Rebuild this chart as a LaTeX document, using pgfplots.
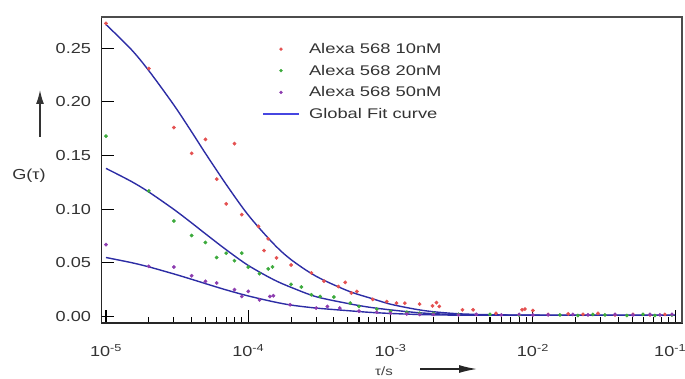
\documentclass[border=0pt]{standalone}
\usepackage{pgfplots}
\pgfplotsset{compat=1.18}
\usetikzlibrary{arrows.meta}
\usepackage{fontspec}
\setmainfont{Liberation Sans}
\newfontfamily\tickfont{Liberation Sans}[FakeStretch=1.25]
\newfontfamily\legfont{Liberation Sans}[FakeStretch=1.31]
\definecolor{c10}{RGB}{228,80,80}
\definecolor{c20}{RGB}{60,170,60}
\definecolor{c50}{RGB}{140,60,175}
\definecolor{fit}{RGB}{45,45,165}
\definecolor{fitleg}{RGB}{70,70,225}

\begin{document}
\begin{tikzpicture}
\useasboundingbox (0,0) rectangle (685pt,378pt);
\begin{axis}[
  at={(101.5pt,55pt)}, anchor=south west,
  scale only axis, width=580.5pt, height=306pt,
  xmode=log, xmin=9.3e-6, xmax=0.1117,
  ymin=-0.006, ymax=0.279,
  axis line style={line width=1.4pt, black!85},
  tick align=inside,
  xtick pos=bottom, ytick pos=left,
  major tick length=13pt, minor tick length=6pt,
  every tick/.style={black, line width=1.1pt},
  xtick={1e-5,1e-4,1e-3,1e-2,1e-1},
  xticklabels={10\textsuperscript{-5},10\textsuperscript{-4},10\textsuperscript{-3},10\textsuperscript{-2},\hspace*{-10pt}10\textsuperscript{-1}},
  ytick={0,0.05,0.1,0.15,0.2,0.25},
  /pgf/number format/assume math mode=true,
  yticklabel style={/pgf/number format/fixed, /pgf/number format/fixed zerofill, /pgf/number format/precision=2},
  ticklabel style={font=\fontsize{14.5}{16}\tickfont, text=black!80},
  xticklabel style={yshift=-18pt},
  yticklabel style={xshift=-7pt},
  scaled y ticks=false,
  legend style={at={(0.2765,0.928)}, anchor=north west, draw=none, fill=none,
    font=\fontsize{14}{16}\legfont, text=black!80, row sep=6pt, inner xsep=0pt},
  legend cell align=left,
]
% 10 nM
\addplot[only marks, mark=*, mark size=1.7pt, c10, legend image code/.code={\fill[c10] (18pt,0pt) circle (1.5pt); \path[draw=none,fill=none] (0pt,0pt) -- (44pt,0pt);}] coordinates {
(1e-5,0.273) (2e-5,0.231) (3e-5,0.176) (4e-5,0.152) (5e-5,0.165) (6e-5,0.128) (7e-5,0.105) (8e-5,0.161) (9e-5,0.095)
(1.18e-4,0.084) (1.29e-4,0.0615) (1.38e-4,0.0724) (1.58e-4,0.0547) (2.0e-4,0.048) (2.78e-4,0.0406) (3.4e-4,0.033)
(4.3e-4,0.028) (4.8e-4,0.0318) (5.3e-4,0.0219) (5.8e-4,0.0234) (7.5e-4,0.016) (9.4e-4,0.014) (1.1e-3,0.0125)
(1.26e-3,0.0125) (1.6e-3,0.0116) (1.97e-3,0.010) (2.1e-3,0.013) (2.2e-3,0.0094) (3.2e-3,0.0063) (3.8e-3,0.0063)
(5.5e-3,0.003) (8.4e-3,0.0063) (8.8e-3,0.007) (1e-2,0.0056) (1.28e-2,0.002) (1.77e-2,0.0025) (2.25e-2,0.002)
(2.87e-2,0.003) (3.78e-2,0.0015) (5.05e-2,0.002) (6.65e-2,0.0015) (8.47e-2,0.002)
};
\addlegendentry{Alexa 568 10nM}
% 20 nM
\addplot[only marks, mark=*, mark size=1.7pt, c20, legend image code/.code={\fill[c20] (18pt,0pt) circle (1.5pt); \path[draw=none,fill=none] (0pt,0pt) -- (44pt,0pt);}] coordinates {
(1e-5,0.168) (2e-5,0.117) (3e-5,0.089) (4e-5,0.0755) (5e-5,0.069) (6e-5,0.055) (7e-5,0.059) (8e-5,0.052) (9e-5,0.059)
(1e-4,0.046) (1.2e-4,0.040) (1.38e-4,0.0444) (1.48e-4,0.0462) (2e-4,0.030) (2.36e-4,0.0275) (2.78e-4,0.0203)
(3.2e-4,0.0187) (4e-4,0.0182) (5.2e-4,0.0125) (6e-4,0.0094) (8e-4,0.007) (1e-3,0.005) (1.3e-3,0.004) (1.6e-3,0.003)
(2e-3,0.003) (3e-3,0.002) (5e-3,0.002) (8e-3,0.0015) (1.55e-2,0.0015) (2.07e-2,0.001) (2.64e-2,0.002)
(3.21e-2,0.0015) (4.58e-2,0.001) (5.94e-2,0.002) (7.21e-2,0.001) (9.49e-2,0.0015)
};
\addlegendentry{Alexa 568 20nM}
% 50 nM
\addplot[only marks, mark=*, mark size=1.7pt, c50, legend image code/.code={\fill[c50] (18pt,0pt) circle (1.5pt); \path[draw=none,fill=none] (0pt,0pt) -- (44pt,0pt);}] coordinates {
(1e-5,0.067) (2e-5,0.0468) (3e-5,0.0462) (4e-5,0.038) (5e-5,0.0328) (6e-5,0.0313) (8e-5,0.025) (9e-5,0.0187)
(1e-4,0.0234) (1.2e-4,0.0156) (1.42e-4,0.0187) (1.5e-4,0.0194) (1.97e-4,0.011) (3e-4,0.0079) (3.6e-4,0.0094)
(4.4e-4,0.0079) (6e-4,0.005) (8e-4,0.004) (1e-3,0.003) (1.3e-3,0.0025) (1.6e-3,0.002) (2e-3,0.002) (3e-3,0.0015)
(4e-3,0.002) (6e-3,0.0015) (8e-3,0.002) (1e-2,0.0015) (1.28e-2,0.0016) (1.91e-2,0.002) (2.44e-2,0.0015)
(3.78e-2,0.002) (5.05e-2,0.0015) (6.65e-2,0.002) (7.82e-2,0.0015) (9.49e-2,0.002)
};
\addlegendentry{Alexa 568 50nM}
% fit curves
\addplot[fit, line width=1.4pt, smooth, legend image code/.code={\draw[fitleg, line width=1.6pt] (0pt,0pt) -- (36pt,0pt); \path[draw=none,fill=none] (0pt,0pt) -- (44pt,0pt);}] coordinates {
(1e-5,0.272) (1.5e-5,0.249) (2e-5,0.229) (3e-5,0.197) (4e-5,0.172) (5e-5,0.152) (7e-5,0.123) (1e-4,0.0945)
(1.5e-4,0.068) (2e-4,0.053) (3e-4,0.0375) (5e-4,0.0240) (7.5e-4,0.0165) (1e-3,0.0115) (1.5e-3,0.0068)
(2e-3,0.0045) (3e-3,0.0026) (5e-3,0.0017) (1e-2,0.0013) (2e-2,0.0012) (1e-1,0.0012)
};
\addlegendentry{Global Fit curve}
\addplot[fit, line width=1.4pt, smooth, forget plot] coordinates {
(1e-5,0.138) (1.5e-5,0.126) (2e-5,0.116) (3e-5,0.0998) (4e-5,0.0872) (5e-5,0.0771) (7e-5,0.0622) (1e-4,0.0476)
(1.5e-4,0.0345) (2e-4,0.0272) (3e-4,0.0185) (5e-4,0.0122) (7e-4,0.0088) (1e-3,0.0062) (1.5e-3,0.0038)
(2e-3,0.0027) (3e-3,0.0018) (5e-3,0.0014) (1e-2,0.0012) (1e-1,0.0012)
};
\addplot[fit, line width=1.4pt, smooth, forget plot] coordinates {
(1e-5,0.055) (1.5e-5,0.0503) (2e-5,0.0463) (3e-5,0.0397) (4e-5,0.0347) (5e-5,0.0307) (7e-5,0.0248) (1e-4,0.0192)
(1.5e-4,0.0138) (2e-4,0.0107) (3e-4,0.0079) (5e-4,0.0055) (7e-4,0.0040) (1e-3,0.0029) (1.5e-3,0.0020)
(2e-3,0.0016) (3e-3,0.0013) (5e-3,0.0012) (1e-2,0.0012) (1e-1,0.0012)
};
\end{axis}
% top and right frame lines, drawn as thin filled bands
\fill[black!70] (100.5pt,360pt) rectangle (683pt,362.2pt);
\fill[black!70] (680.8pt,55pt) rectangle (683pt,362.2pt);
% y label with arrow
\node[font=\fontsize{14.5}{16}\tickfont, text=black!80] at (29pt,202pt) {G(τ)};
\draw[line width=1.4pt, black!80, -{Latex[length=14pt,width=8pt]}] (40pt,241pt) -- (40pt,288pt);
% x label with arrow
\node[font=\fontsize{12}{14}\tickfont, text=black!75, inner sep=0pt] at (384pt,7pt) {τ/s};
\draw[line width=1.4pt, black!85, -{Latex[length=18pt,width=8pt]}] (420pt,9pt) -- (477pt,9pt);
\end{tikzpicture}
\end{document}
